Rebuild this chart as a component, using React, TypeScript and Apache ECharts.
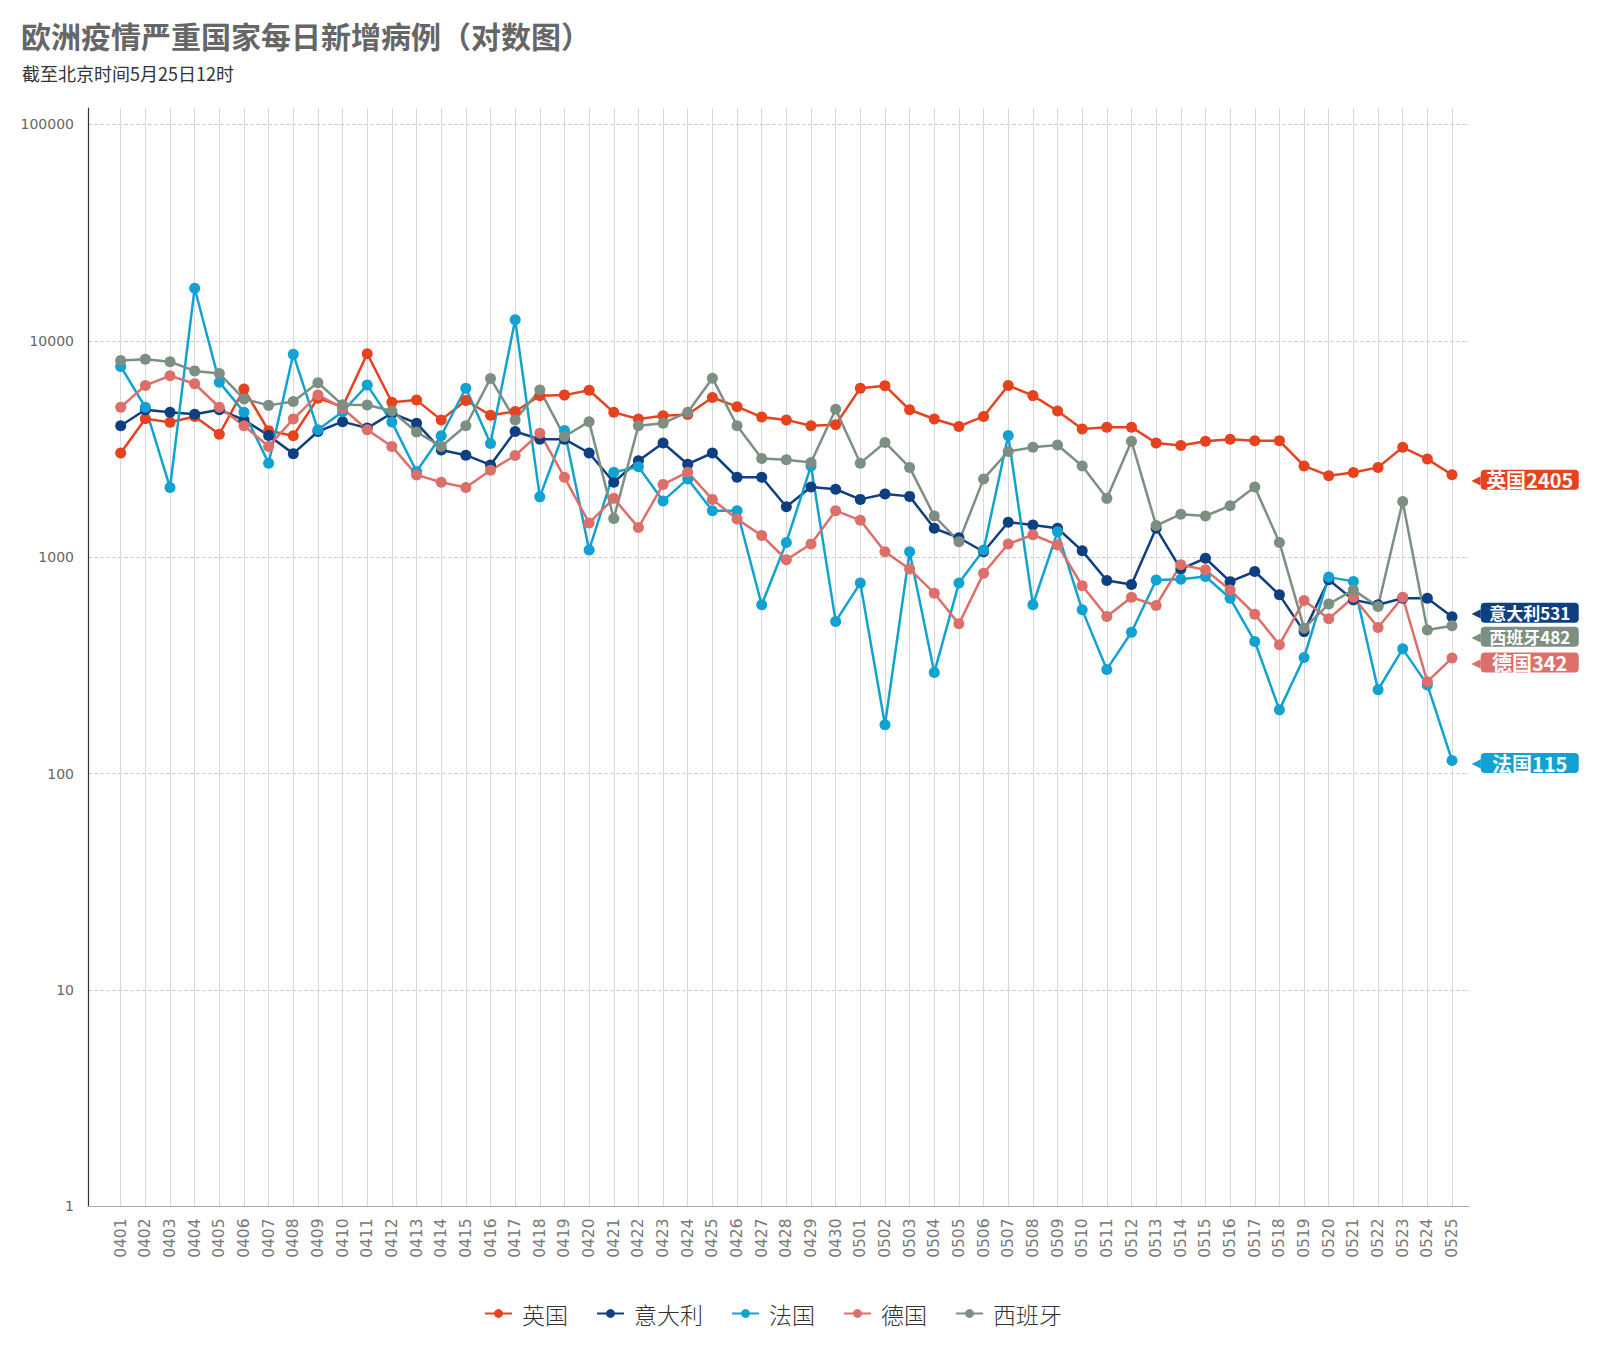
import React, { useEffect, useRef } from "react";
import * as echarts from "echarts";

const categories = [
  "0401","0402","0403","0404","0405","0406","0407","0408","0409","0410",
  "0411","0412","0413","0414","0415","0416","0417","0418","0419","0420",
  "0421","0422","0423","0424","0425","0426","0427","0428","0429","0430",
  "0501","0502","0503","0504","0505","0506","0507","0508","0509","0510",
  "0511","0512","0513","0514","0515","0516","0517","0518","0519","0520",
  "0521","0522","0523","0524","0525",
];

const ukData = [
  3030, 4360, 4200, 4470, 3700, 5980, 3840, 3640, 5430, 4960,
  8710, 5200, 5320, 4310, 5300, 4530, 4710, 5570, 5610, 5910,
  4670, 4350, 4500, 4560, 5470, 4960, 4440, 4310, 4050, 4090,
  6040, 6200, 4800, 4350, 4020, 4470, 6220, 5580, 4740, 3910,
  3990, 3990, 3370, 3280, 3430, 3510, 3450, 3450, 2640, 2380,
  2460, 2600, 3220, 2840, 2405,
];

const itData = [
  4050, 4800, 4670, 4580, 4800, 4310, 3650, 3010, 3810, 4230,
  3950, 4630, 4160, 3130, 2960, 2670, 3810, 3510, 3510, 3030,
  2220, 2790, 3370, 2690, 3030, 2340, 2340, 1710, 2110, 2060,
  1850, 1960, 1910, 1360, 1230, 1060, 1450, 1410, 1360, 1070,
  780, 748, 1360, 881, 989, 771, 859, 670, 453, 786,
  635, 603, 646, 646, 531,
];

const frData = [
  7610, 4930, 2100, 17500, 6440, 4680, 2720, 8670, 3880, 4700,
  6240, 4210, 2490, 3640, 6040, 3350, 12500, 1900, 3850, 1080,
  2470, 2620, 1820, 2300, 1640, 1640, 603, 1170, 2640, 505,
  759, 168, 1060, 293, 759, 1080, 3650, 603, 1310, 571,
  303, 450, 785, 791, 814, 646, 408, 197, 344, 809,
  773, 244, 377, 257, 115,
];

const deData = [
  4930, 6220, 6890, 6330, 4930, 4050, 3250, 4350, 5620, 4880,
  3880, 3250, 2400, 2220, 2100, 2520, 2950, 3740, 2340, 1440,
  1870, 1370, 2170, 2470, 1850, 1500, 1260, 973, 1150, 1640,
  1480, 1060, 881, 682, 492, 843, 1150, 1270, 1140, 738,
  532, 653, 598, 923, 874, 706, 545, 394, 631, 519,
  653, 473, 653, 266, 342,
];

const esData = [
  8110, 8220, 8000, 7260, 7060, 5390, 5030, 5240, 6400, 5060,
  5050, 4740, 3790, 3250, 4050, 6700, 4310, 5930, 3610, 4230,
  1510, 4050, 4160, 4680, 6720, 4050, 2860, 2820, 2740, 4830,
  2720, 3390, 2600, 1550, 1180, 2300, 3080, 3220, 3300, 2640,
  1870, 3430, 1400, 1580, 1550, 1730, 2110, 1170, 470, 607,
  706, 592, 1810, 461, 482,
];

const seriesNames = ["英国", "意大利", "法国", "德国", "西班牙"];
const seriesColors = ["#E5421D", "#0E3F80", "#12A2D2", "#DD6F6A", "#7C8F82"];
const allData = [ukData, itData, frData, deData, esData];
// vertical nudges of the end tags so they do not collide
const endLabelShiftY = [5, -4, 2.6, 4.5, 11];

const titleText = "欧洲疫情严重国家每日新增病例（对数图）";
const subtitleText = "截至北京时间5月25日12时";

const CJK = "'Noto Sans CJK SC', 'Noto Sans', sans-serif";
const NUM = "'DejaVu Sans', sans-serif";

export default function App() {
  const ref = useRef<HTMLDivElement>(null);

  useEffect(() => {
    document.body.style.margin = "0";
    if (!ref.current) return;
    const chart = echarts.init(ref.current, undefined, { renderer: "svg" });

    const series = seriesNames.map((name, i) => {
      const color = seriesColors[i];
      const tagFont = name.length >= 3 ? 17 : 20;
      const data = allData[i].map((v, j, arr) =>
        j === arr.length - 1
          ? {
              value: v,
              label: {
                show: true,
                position: "right",
                distance: 14,
                offset: [0, endLabelShiftY[i]],
                formatter: `{a|◀}{b|${name}${v}}`,
                rich: {
                  a: {
                    color,
                    fontSize: 12,
                    lineHeight: 14,
                    fontFamily: NUM,
                  },
                  b: {
                    backgroundColor: color,
                    color: "#fff",
                    fontSize: tagFont,
                    fontWeight: "bold",
                    fontFamily: CJK,
                    width: 86,
                    align: "center",
                    lineHeight: 20,
                    height: 20,
                    padding: [0, 6, 0, 6],
                    borderRadius: 4,
                  },
                },
              },
            }
          : v
      );
      return {
        name,
        type: "line",
        xAxisIndex: 0,
        yAxisIndex: 0,
        data,
        symbol: "circle",
        symbolSize: 11,
        lineStyle: { width: 2.5, color },
        itemStyle: { color },
        emphasis: { disabled: true },
      };
    });

    const option = {
      animation: false,
      backgroundColor: "#ffffff",
      title: [
        {
          text: titleText,
          left: 16,
          top: 15,
          textStyle: { fontSize: 30, fontWeight: "bold", color: "#666", fontFamily: CJK },
        },
        {
          text: subtitleText,
          left: 17,
          top: 59,
          textStyle: { fontSize: 18, fontWeight: "normal", color: "#333", fontFamily: CJK },
        },
      ],
      legend: {
        data: seriesNames,
        left: 479,
        top: 1297,
        itemWidth: 27,
        itemHeight: 11,
        itemGap: 28,
        textStyle: { fontSize: 23, color: "#333", fontWeight: 300, fontFamily: CJK, padding: [0, 0, 0, 5] },
      },
      grid: [
        { left: 120.7, right: 148, top: 108, bottom: 142.6 },
        { left: 88, right: 131, top: 124.4, bottom: 142.6 },
      ],
      xAxis: [
        {
          type: "category",
          gridIndex: 0,
          data: categories,
          boundaryGap: false,
          axisLine: { show: false },
          axisTick: { show: false },
          axisLabel: {
            interval: 0,
            rotate: 90,
            margin: 12,
            fontSize: 15.5,
            color: "#777",
            fontFamily: NUM,
          },
          splitLine: { show: true, interval: 0, lineStyle: { color: "#d8d8d8", width: 1 } },
        },
        {
          type: "value",
          gridIndex: 1,
          min: 0,
          max: 1,
          axisLine: { show: true, onZero: false, lineStyle: { color: "#aaa", width: 1 } },
          axisTick: { show: false },
          axisLabel: { show: false },
          splitLine: { show: false },
        },
      ],
      yAxis: [
        {
          type: "log",
          logBase: 10,
          gridIndex: 0,
          min: 1,
          max: 119050,
          offset: 32.7,
          axisLine: { show: true, onZero: false, lineStyle: { color: "#333", width: 1.2 } },
          axisTick: { show: false },
          axisLabel: { show: false },
          splitLine: { show: false },
        },
        {
          type: "log",
          logBase: 10,
          gridIndex: 1,
          min: 1,
          max: 100000,
          axisLine: { show: false },
          axisTick: { show: false },
          axisLabel: {
            fontSize: 14,
            color: "#666",
            margin: 14,
            fontFamily: NUM,
            formatter: (v: number) => String(Math.round(v)),
          },
          splitLine: { show: true, lineStyle: { color: "#cfcfcf", type: "dashed", width: 1 } },
        },
      ],
      series,
    };

    chart.setOption(option as any);
    return () => chart.dispose();
  }, []);

  return <div ref={ref} style={{ width: 1600, height: 1349, position: "absolute", left: 0, top: 0 }} />;
}
